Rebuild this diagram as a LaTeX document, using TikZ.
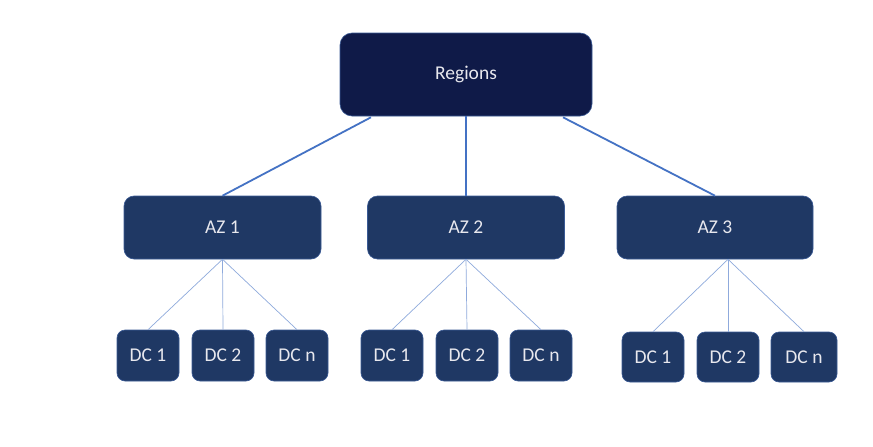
\documentclass[tikz,border=0pt]{standalone}
\usepackage{fontspec}
\setmainfont{Carlito}
\usetikzlibrary{calc}
\definecolor{regfill}{HTML}{0F1A48}
\definecolor{boxfill}{HTML}{1F3864}
\definecolor{boxline}{HTML}{3A5A95}
\definecolor{thick}{HTML}{4472C4}
\definecolor{thin}{HTML}{8FAADC}
\definecolor{txt}{HTML}{E8E8EE}
\tikzset{
  base/.style={draw=boxline, line width=0.6pt, text=txt, font=\fontsize{19.5}{22}\selectfont, inner sep=0pt},
  regbox/.style={base, fill=regfill, rounded corners=12pt, minimum width=252pt, minimum height=83pt},
  azbox/.style={base, fill=boxfill, rounded corners=10pt, minimum width=197pt, minimum height=63pt},
  dcbox/.style={base, fill=boxfill, rounded corners=8pt, minimum width=62pt, minimum height=51pt},
  thickline/.style={draw=thick, line width=1.8pt},
  thinline/.style={draw=thin, line width=0.7pt}
}
\begin{document}
\begin{tikzpicture}[x=1pt,y=-1pt]
\useasboundingbox (0,0) rectangle (873,447);
\fill[white] (0,0) rectangle (873,447);
\node[regbox] (R) at (466,74.5) {Regions};
\node[azbox] (A1) at (222.5,227.5) {AZ 1};
\node[azbox] (A2) at (466,227.5) {AZ 2};
\node[azbox, minimum width=196pt] (A3) at (715,227.5) {AZ 3};
\node[dcbox] (A1d1) at (148,355.5) {DC 1};
\node[dcbox] (A1d2) at (223,355.5) {DC 2};
\node[dcbox] (A1dn) at (297,355.5) {DC n};
\node[dcbox] (A2d1) at (392,355.5) {DC 1};
\node[dcbox] (A2d2) at (467,355.5) {DC 2};
\node[dcbox] (A2dn) at (541,355.5) {DC n};
\node[dcbox, minimum height=50pt] (A3d1) at (653,357) {DC 1};
\node[dcbox, minimum height=50pt] (A3d2) at (728,357) {DC 2};
\node[dcbox, minimum height=50pt, minimum width=66pt] (A3dn) at (804,357) {DC n};
\coordinate (A3c) at ($(A3.south)+(13,0)$);
\draw[thickline] ($(R.south)+(-95,1)$) -- (A1.north);
\draw[thickline] (R.south) -- (A2.north);
\draw[thickline] ($(R.south)+(97,1)$) -- (A3.north);
\draw[thinline] (A1.south) -- (A1d1.north);
\draw[thinline] (A1.south) -- (A1d2.north);
\draw[thinline] (A1.south) -- (A1dn.north);
\draw[thinline] (A2.south) -- (A2d1.north);
\draw[thinline] (A2.south) -- (A2d2.north);
\draw[thinline] (A2.south) -- (A2dn.north);
\draw[thinline] (A3c) -- (A3d1.north);
\draw[thinline] (A3c) -- (A3d2.north);
\draw[thinline] (A3c) -- (A3dn.north);
\end{tikzpicture}
\end{document}
